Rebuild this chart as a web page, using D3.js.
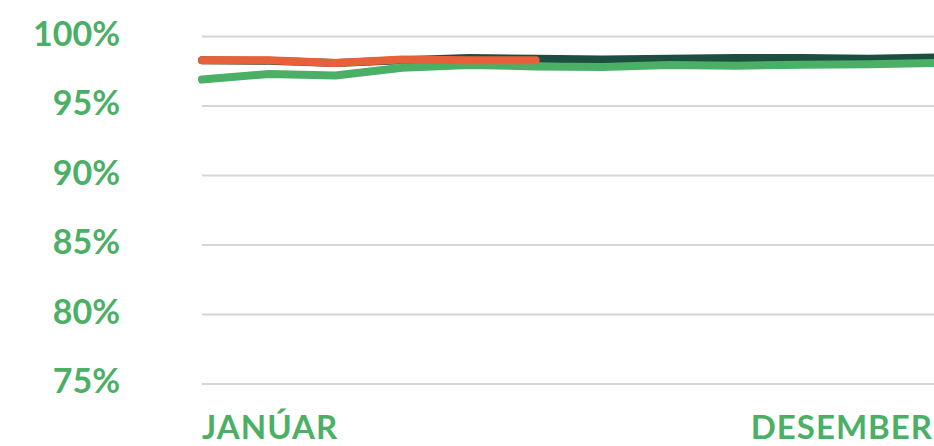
<!DOCTYPE html>
<html>
<head>
<meta charset="utf-8">
<script src="https://cdn.jsdelivr.net/npm/d3@7"></script>
<style>
  html, body { margin: 0; padding: 0; background: #fff; }
  svg { display: block; }
  text { font-family: Lato, "DejaVu Sans", sans-serif; font-weight: 700; fill: #4bb066; }
</style>
</head>
<body>
<svg id="chart"></svg>
<script>
// months of the year (only first and last get a label)
const months = ['JANÚAR', 'FEBRÚAR', 'MARS', 'APRÍL', 'MAÍ', 'JÚNÍ',
    'JÚLÍ', 'ÁGÚST', 'SEPTEMBER', 'OKTÓBER', 'NÓVEMBER', 'DESEMBER'];
const xTickLabels = ['JANÚAR', 'DESEMBER'];
const yTicks = [75, 80, 85, 90, 95, 100];

// series values (%)
const darkSeries = [98.3, 98.25, 98.1, 98.3, 98.45, 98.4, 98.35, 98.4, 98.45, 98.45, 98.4, 98.5];
const lightSeries = [96.9, 97.3, 97.2, 97.75, 97.95, 97.85, 97.8, 97.95, 97.9, 97.97, 98.0, 98.1];
const orangeSeries = [98.3, 98.3, 98.1, 98.35, 98.3, 98.3];

const W = 934, H = 446;
const margin = { top: 36.5, left: 202, right: -2, bottom: 62 };

const svg = d3.select('#chart')
    .attr('width', W)
    .attr('height', H);

const x = d3.scalePoint().domain(months).range([margin.left, W - margin.right]);
const y = d3.scaleLinear().domain([75, 100]).range([H - margin.bottom, margin.top]);

/** gridlines */
svg.append('g')
    .selectAll('line')
    .data(yTicks)
    .enter()
    .append('line')
    .attr('x1', margin.left)
    .attr('x2', W)
    .attr('y1', d => y(d))
    .attr('y2', d => y(d))
    .style('stroke', '#d6d6d6')
    .style('stroke-width', 2);

/** y labels */
svg.append('g')
    .selectAll('text')
    .data(yTicks)
    .enter()
    .append('text')
    .attr('x', 120)
    .attr('y', d => y(d) - 3)
    .attr('dy', '0.36em')
    .attr('text-anchor', 'end')
    .style('font-size', '34px')
    .text(d => d + '%');

/** x labels */
svg.append('g')
    .selectAll('text')
    .data(xTickLabels)
    .enter()
    .append('text')
    .attr('x', (d, i) => i === 0 ? x(d) : W - 1)
    .attr('y', 439)
    .attr('text-anchor', (d, i) => i === 0 ? 'start' : 'end')
    .style('font-size', '33px')
    .style('letter-spacing', '1px')
    .text(d => d);

const line = d3.line()
    .x((d, i) => x(months[i]))
    .y(d => y(d));

const series = [
    { values: darkSeries, color: '#1d4f40' },
    { values: lightSeries, color: '#4bb066' },
    { values: orangeSeries, color: '#e8603a' }
];

svg.append('g')
    .selectAll('path')
    .data(series)
    .enter()
    .append('path')
    .attr('d', d => line(d.values))
    .style('fill', 'none')
    .style('stroke', d => d.color)
    .style('stroke-width', 8)
    .style('stroke-linecap', 'round')
    .style('stroke-linejoin', 'round');
</script>
</body>
</html>
